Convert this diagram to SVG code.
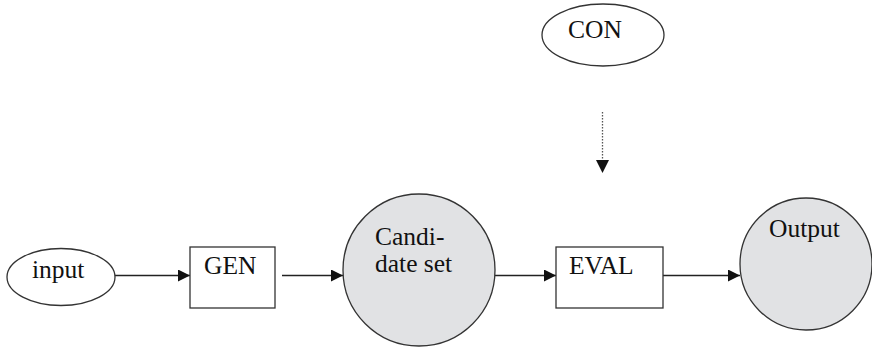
<svg xmlns="http://www.w3.org/2000/svg" width="872" height="347" viewBox="0 0 872 347">
<style>
.n{fill:#fff;stroke:#333;stroke-width:1.3}
.c{fill:#e1e2e4;stroke:#333;stroke-width:1.3}
.t{font-family:"Liberation Serif","Times New Roman",serif;font-size:25.5px;fill:#111}
.e{stroke:#222;stroke-width:1.3;fill:none}
.d{stroke:#555;stroke-width:1.3;fill:none;stroke-dasharray:1.5 1.5}
</style>
<defs>
<marker id="ah" markerWidth="12" markerHeight="12" refX="12" refY="6" orient="auto" markerUnits="userSpaceOnUse">
<path d="M0,0 L12,6 L0,12 Z" fill="#111"/>
</marker>
</defs>
<rect width="872" height="347" fill="#fff"/>
<g id="connectors">
<line class="e" x1="115" y1="275.5" x2="190" y2="275.5" marker-end="url(#ah)"/>
<line class="e" x1="282" y1="275.5" x2="343" y2="275.5" marker-end="url(#ah)"/>
<line class="e" x1="495" y1="275.5" x2="556" y2="275.5" marker-end="url(#ah)"/>
<line class="e" x1="663" y1="275.5" x2="740" y2="275.5" marker-end="url(#ah)"/>
<line class="d" x1="602.5" y1="112" x2="602.5" y2="162"/>
<path d="M596,160 L609,160 L602.5,173 Z" fill="#111"/>
</g>
<g id="input">
<ellipse class="n" cx="61" cy="277" rx="54" ry="28.5"/>
<text class="t" x="32" y="278">input</text>
</g>
<g id="gen">
<rect class="n" x="190" y="247" width="85" height="61"/>
<text class="t" x="204" y="274">GEN</text>
</g>
<g id="candidate">
<circle class="c" cx="419" cy="270" r="76"/>
<text class="t" x="375" y="245">Candi-</text>
<text class="t" x="375" y="272">date set</text>
</g>
<g id="eval">
<rect class="n" x="556" y="247" width="107" height="61"/>
<text class="t" x="569" y="274">EVAL</text>
</g>
<g id="output">
<circle class="c" cx="806" cy="264" r="66"/>
<text class="t" x="769" y="237">Output</text>
</g>
<g id="con">
<ellipse class="n" cx="603" cy="35" rx="61" ry="31"/>
<text class="t" x="568" y="38">CON</text>
</g>
</svg>
